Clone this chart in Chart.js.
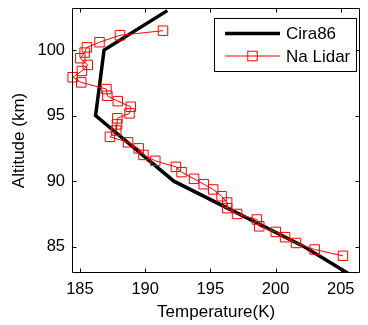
<!DOCTYPE html>
<html><head><meta charset="utf-8">
<script src="https://cdn.jsdelivr.net/npm/chart.js@4.4.1/dist/chart.umd.min.js"></script>
<style>html,body{margin:0;padding:0;background:#fff}</style>
</head><body>
<canvas id="c" width="368" height="325" style="width:368px;height:325px;display:block"></canvas>
<script>
const ciraAltitude = [103, 100, 95, 90, 85, 80];
const ciraTemperature = [191.7, 186.85, 186.2, 192.2, 202.2, 210.5];

const lidarAltitude = [101.47, 101.12, 100.59, 100.2, 99.8, 99.37, 98.86, 98.4, 97.92, 97.53,
  97.02, 96.51, 96.1, 95.67, 95.17, 94.79, 94.33, 93.86, 93.38, 92.96,
  92.5, 92.0, 91.55, 91.09, 90.69, 90.18, 89.77, 89.37, 88.85, 88.37,
  87.94, 87.5, 87.08, 86.56, 86.13, 85.73, 85.29, 84.79, 84.31];
const lidarTemperature = [191.37, 188.07, 186.5, 185.53, 185.36, 185.03, 185.6, 185.15, 184.44, 185.1,
  187.03, 187.1, 187.9, 188.9, 188.8, 187.87, 187.84, 187.78, 187.3, 188.69,
  189.5, 189.87, 190.78, 192.36, 192.79, 193.75, 194.49, 195.22, 195.86, 196.29,
  196.29, 197.05, 198.57, 198.75, 200.02, 200.73, 201.57, 203.0, 205.17];

const xTicks = [185, 190, 195, 200, 205];
const yTicks = [85, 90, 95, 100];
const seriesNames = ['Cira86', 'Na Lidar'];
const xTitle = 'Temperature(K)';
const yTitle = 'Altitude (km)';

const FONT = "'Liberation Sans', Arial, Helvetica, sans-serif";
Chart.defaults.font.family = FONT;
Chart.defaults.color = '#000';

const framePlugin = {
  id: 'frame',
  afterDraw(chart) {
    const ctx = chart.ctx;
    const a = chart.chartArea;
    const xs = chart.scales.x, ys = chart.scales.y;
    ctx.save();
    ctx.strokeStyle = '#000';
    ctx.lineWidth = 1;
    const L = Math.round(a.left) + 0.5, R = Math.round(a.right) - 0.5;
    const T = Math.round(a.top) + 0.5, B = Math.round(a.bottom) - 0.5;
    ctx.beginPath();
    ctx.rect(L, T, R - L, B - T);
    ctx.stroke();
    const tl = 4;
    ctx.beginPath();
    xTicks.forEach(v => {
      const px = Math.round(xs.getPixelForValue(v)) + 0.5;
      ctx.moveTo(px, B); ctx.lineTo(px, B - tl);
      ctx.moveTo(px, T); ctx.lineTo(px, T + tl);
    });
    yTicks.forEach(v => {
      const py = Math.round(ys.getPixelForValue(v)) + 0.5;
      ctx.moveTo(L, py); ctx.lineTo(L + tl, py);
      ctx.moveTo(R, py); ctx.lineTo(R - tl, py);
    });
    ctx.stroke();

    // legend
    const bx = 214.5, by = 18.5, bw = 142, bh = 53;
    ctx.fillStyle = '#fff';
    ctx.fillRect(bx, by, bw, bh);
    ctx.strokeStyle = '#000';
    ctx.lineWidth = 1;
    ctx.strokeRect(bx, by, bw, bh);
    const ds = chart.data.datasets;
    const rows = [33.5, 56];
    ds.forEach((d, i) => {
      const y = rows[i];
      ctx.strokeStyle = d.borderColor;
      ctx.lineWidth = d.borderWidth;
      ctx.beginPath();
      ctx.moveTo(225, y); ctx.lineTo(280, y);
      ctx.stroke();
      if (d.pointRadius > 0) {
        ctx.lineWidth = 1;
        ctx.strokeRect(252.5 - 4.75, y - 4.75, 9.5, 9.5);
      }
      ctx.fillStyle = '#000';
      ctx.font = '17px ' + FONT;
      ctx.textAlign = 'left';
      ctx.textBaseline = 'middle';
      ctx.fillText(d.label, 286, y + 1);
    });
    ctx.restore();
  }
};

function zeroPad(s) { s.paddingTop = 0; s.paddingBottom = 0; s.paddingLeft = 0; s.paddingRight = 0; }

new Chart(document.getElementById('c'), {
  type: 'scatter',
  data: {
    datasets: [
      {
        label: seriesNames[0],
        data: ciraAltitude.map((a, i) => ({ x: ciraTemperature[i], y: a })),
        showLine: true,
        borderColor: '#000',
        borderWidth: 3.5,
        pointRadius: 0,
        tension: 0,
        clip: 0,
        order: 2
      },
      {
        label: seriesNames[1],
        data: lidarAltitude.map((a, i) => ({ x: lidarTemperature[i], y: a })),
        showLine: true,
        borderColor: '#ff0000',
        borderWidth: 1,
        pointStyle: 'rect',
        pointRadius: 6.7,
        pointBorderWidth: 1,
        pointBorderColor: '#ff0000',
        pointBackgroundColor: 'rgba(0,0,0,0)',
        tension: 0,
        clip: false,
        order: 1
      }
    ]
  },
  options: {
    responsive: false,
    devicePixelRatio: 1,
    animation: false,
    layout: { padding: { top: 8, right: 5, left: 0, bottom: 0 } },
    plugins: { legend: { display: false }, tooltip: { enabled: false } },
    scales: {
      x: {
        type: 'linear', position: 'bottom',
        min: 184.39, max: 206.5,
        afterBuildTicks: s => { s.ticks = xTicks.map(v => ({ value: v })); },
        afterFit: s => { s.height = 52; zeroPad(s); },
        grid: { display: false, drawTicks: false },
        border: { display: false },
        ticks: { font: { size: 16.5 }, color: '#000', padding: 7, maxRotation: 0, autoSkip: false },
        title: { display: true, text: xTitle, font: { size: 17 }, color: '#000', padding: { top: 0, bottom: 2 } }
      },
      y: {
        type: 'linear', position: 'left',
        min: 83, max: 103.2,
        afterBuildTicks: s => { s.ticks = yTicks.map(v => ({ value: v })); },
        afterFit: s => { s.width = 72; zeroPad(s); },
        grid: { display: false, drawTicks: false },
        border: { display: false },
        ticks: { font: { size: 16.5 }, color: '#000', padding: 7, autoSkip: false },
        title: { display: true, text: yTitle, font: { size: 17 }, color: '#000', padding: { top: 9, bottom: 0 } }
      }
    }
  },
  plugins: [framePlugin]
});
</script>
</body></html>
